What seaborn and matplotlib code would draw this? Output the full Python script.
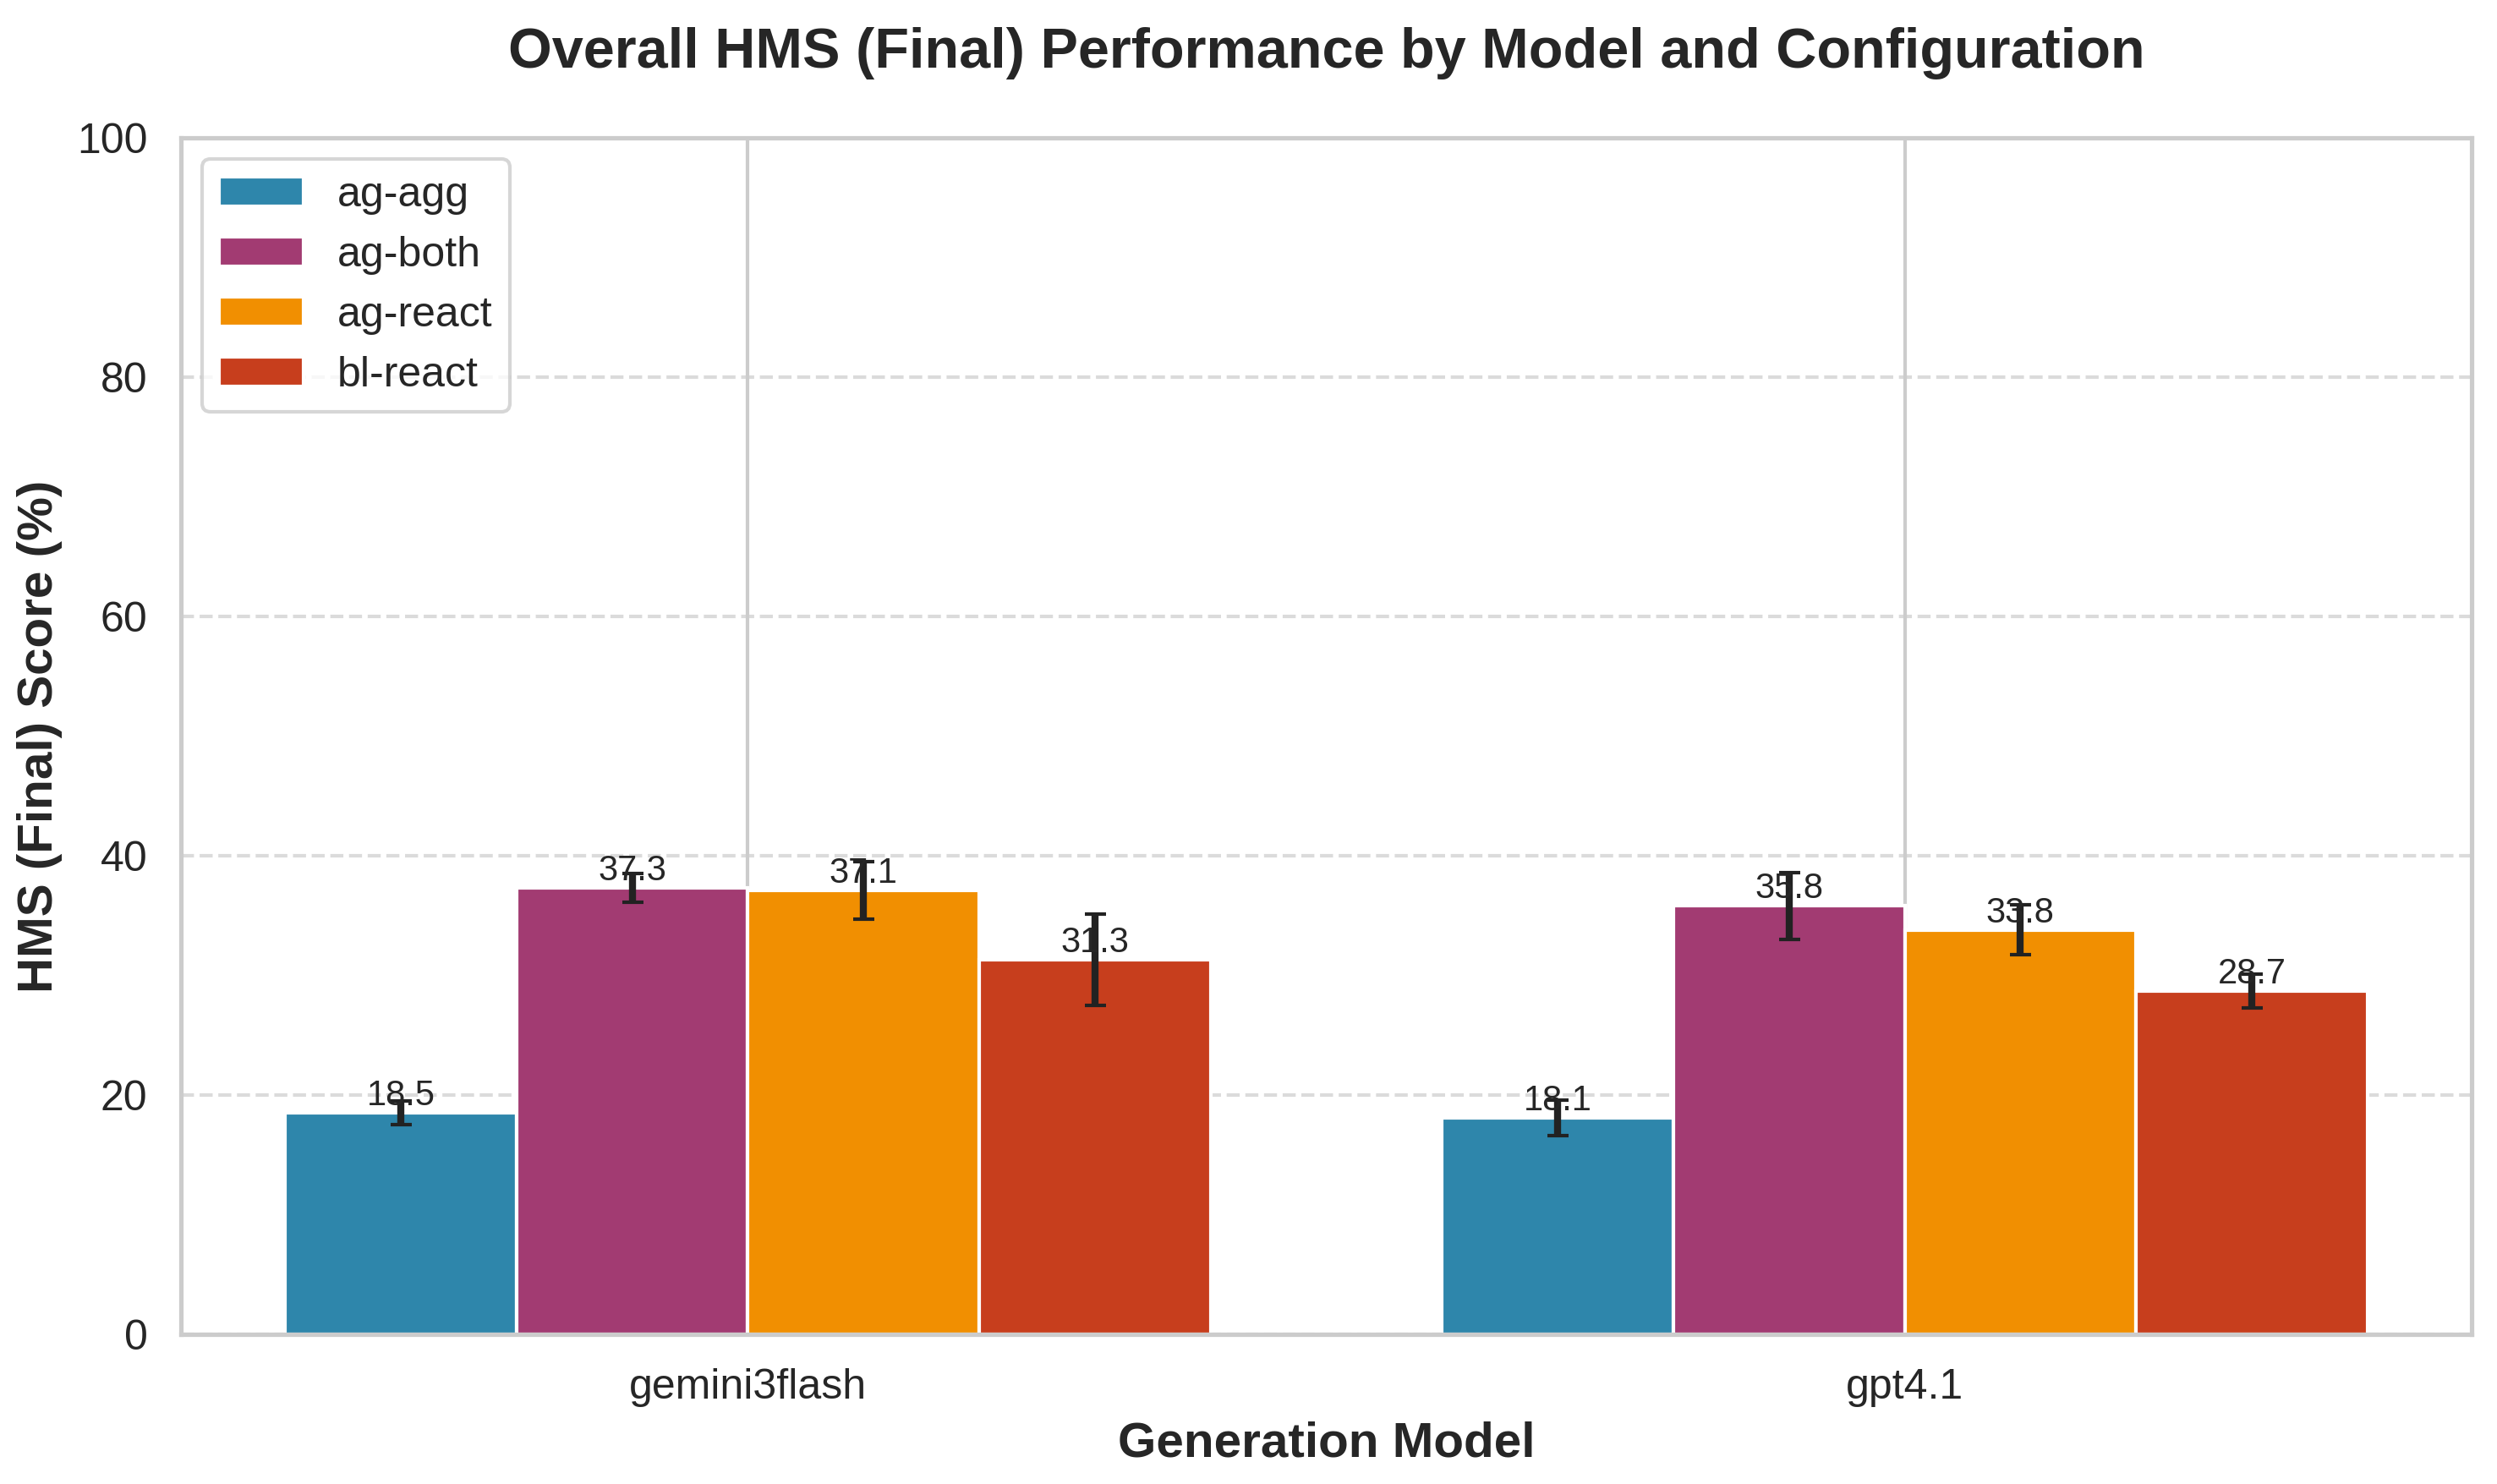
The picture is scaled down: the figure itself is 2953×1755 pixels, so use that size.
import matplotlib
matplotlib.use("Agg")
import matplotlib.pyplot as plt
import pandas as pd
import seaborn as sns

models = ["gemini3flash", "gpt4.1"]
configs = ["ag-agg", "ag-both", "ag-react", "bl-react"]
colors = ["#2E86AB", "#A23B72", "#F18F01", "#C73E1D"]

# mean HMS (final) score per config, one list per model
gemini_scores = [18.5, 37.3, 37.1, 31.3]
gpt_scores = [18.1, 35.8, 33.8, 28.7]
gemini_err = [1.0, 1.2, 2.4, 3.8]
gpt_err = [1.5, 2.8, 2.1, 1.4]

rows = []
for m, sc, er in [(models[0], gemini_scores, gemini_err), (models[1], gpt_scores, gpt_err)]:
    for c, s, e in zip(configs, sc, er):
        rows.append({"model": m, "config": c, "score": s, "err": e})
df = pd.DataFrame(rows)

sns.set_theme(style="whitegrid")
plt.rcParams["font.family"] = ["Liberation Sans", "DejaVu Sans"]

fig, ax = plt.subplots(figsize=(2953 / 300, 1755 / 300), dpi=300)
fig.subplots_adjust(left=0.0725, right=0.9898, top=0.9071, bottom=0.1009)

sns.barplot(data=df, x="model", y="score", hue="config", order=models,
            hue_order=configs, palette=colors, saturation=1, errorbar=None,
            edgecolor="white", linewidth=1, ax=ax)

bar_containers = list(ax.containers)
for cont in bar_containers:
    ax.bar_label(cont, fmt="%.1f", fontsize=10)

for cont, cfg in zip(bar_containers, configs):
    xs, ys, es = [], [], []
    for patch, m in zip(cont.patches, models):
        row = df[(df.model == m) & (df.config == cfg)].iloc[0]
        xs.append(patch.get_x() + patch.get_width() / 2)
        ys.append(row.score)
        es.append(row.err)
    ax.errorbar(xs, ys, yerr=es, fmt="none", ecolor="#222222",
                elinewidth=2, capsize=3)

ax.set_xlim(-0.49, 1.49)
ax.set_ylim(0, 100)
ax.xaxis.grid(True)
ax.yaxis.grid(True, linestyle="--", alpha=0.7)
ax.set_axisbelow(True)
ax.tick_params(axis="both", labelsize=12)
ax.set_xlabel("Generation Model", fontsize=14, fontweight="bold")
ax.set_ylabel("HMS (Final) Score (%)", fontsize=14, fontweight="bold")
ax.set_title("Overall HMS (Final) Performance by Model and Configuration",
             fontsize=16, fontweight="bold", pad=20)
ax.legend(loc="upper left", fontsize=12)

fig.savefig("out.png", dpi=300)
